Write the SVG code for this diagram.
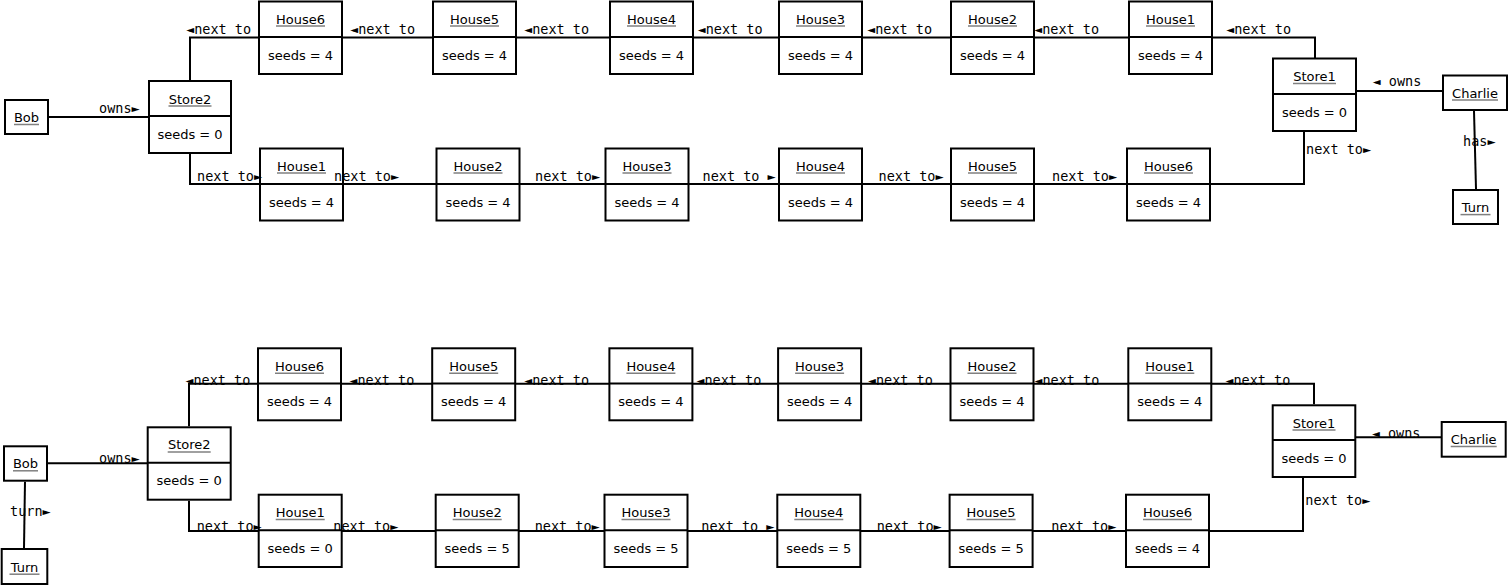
<svg xmlns="http://www.w3.org/2000/svg" width="1508" height="586" viewBox="0 0 1508 586">
<style>
.box{fill:#fff;stroke:#000;stroke-width:2}
.dv{stroke:#000;stroke-width:2}
.ul{stroke:#808080;stroke-width:1.5}
.nm{font-family:"DejaVu Sans","Liberation Sans",sans-serif;font-size:13px;text-anchor:middle;fill:#000}
.vl{font-family:"DejaVu Sans","Liberation Sans",sans-serif;font-size:13px;text-anchor:middle;fill:#000}
.cn{fill:none;stroke:#000;stroke-width:2}
.lb{font-family:"DejaVu Sans Mono","Liberation Mono",monospace;font-size:13.5px;fill:#000}
</style>
<rect width="1508" height="586" fill="#fff"/>
<g id="connectors">
  <!-- top section -->
  <line class="cn" x1="49" y1="117" x2="148" y2="117"/>
  <polyline class="cn" points="190,80 190,37.5 1315,37.5 1315,58"/>
  <polyline class="cn" points="190,154 190,184 1304,184 1304,132"/>
  <line class="cn" x1="1357" y1="91" x2="1442" y2="91"/>
  <line class="cn" x1="1474" y1="111" x2="1476" y2="189"/>
  <!-- bottom section -->
  <line class="cn" x1="48" y1="463.3" x2="147" y2="463.3"/>
  <polyline class="cn" points="189,426.3 189,383.7 1314,383.7 1314,404.3"/>
  <polyline class="cn" points="189,500.7 189,531 1303,531 1303,478"/>
  <line class="cn" x1="1356" y1="437.3" x2="1441" y2="437.3"/>
  <line class="cn" x1="25" y1="481.7" x2="24" y2="548"/>
</g>

<!-- ===== TOP SECTION ===== -->
<g id="t-bob"><rect class="box" x="5" y="100" width="43" height="34"/><text class="nm" x="26.5" y="122">Bob</text><line class="ul" x1="14" y1="124.5" x2="39" y2="124.5"/></g>
<g id="t-store2"><rect class="box" x="149" y="81" width="82" height="72"/><line class="dv" x1="149" y1="116" x2="231" y2="116"/><text class="nm" x="190" y="103.5">Store2</text><line class="ul" x1="168.5" y1="106" x2="211.5" y2="106"/><text class="vl" x="190" y="138.5">seeds = 0</text></g>
<g id="t-store1"><rect class="box" x="1273" y="58.5" width="83" height="72.5"/><line class="dv" x1="1273" y1="94" x2="1356" y2="94"/><text class="nm" x="1314.5" y="81">Store1</text><line class="ul" x1="1293" y1="83.5" x2="1336" y2="83.5"/><text class="vl" x="1314.5" y="116.5">seeds = 0</text></g>
<g id="t-charlie"><rect class="box" x="1443" y="75.5" width="64" height="34.5"/><text class="nm" x="1475" y="97.5">Charlie</text><line class="ul" x1="1452" y1="100" x2="1498" y2="100"/></g>
<g id="t-turn"><rect class="box" x="1453" y="190" width="45" height="34"/><text class="nm" x="1475.5" y="212.3">Turn</text><line class="ul" x1="1460.5" y1="214.6" x2="1490.5" y2="214.6"/></g>

<g id="t-a-house6"><rect class="box" x="259" y="1.5" width="83" height="72.5"/><line class="dv" x1="259" y1="37" x2="342" y2="37"/><text class="nm" x="300.5" y="23.5">House6</text><line class="ul" x1="276" y1="26" x2="325" y2="26"/><text class="vl" x="300.5" y="59.5">seeds = 4</text></g>
<g id="t-a-house5"><rect class="box" x="433" y="1.5" width="83" height="72.5"/><line class="dv" x1="433" y1="37" x2="516" y2="37"/><text class="nm" x="474.5" y="23.5">House5</text><line class="ul" x1="450" y1="26" x2="499" y2="26"/><text class="vl" x="474.5" y="59.5">seeds = 4</text></g>
<g id="t-a-house4"><rect class="box" x="610" y="1.5" width="83" height="72.5"/><line class="dv" x1="610" y1="37" x2="693" y2="37"/><text class="nm" x="651.5" y="23.5">House4</text><line class="ul" x1="627" y1="26" x2="676" y2="26"/><text class="vl" x="651.5" y="59.5">seeds = 4</text></g>
<g id="t-a-house3"><rect class="box" x="779" y="1.5" width="83" height="72.5"/><line class="dv" x1="779" y1="37" x2="862" y2="37"/><text class="nm" x="820.5" y="23.5">House3</text><line class="ul" x1="796" y1="26" x2="845" y2="26"/><text class="vl" x="820.5" y="59.5">seeds = 4</text></g>
<g id="t-a-house2"><rect class="box" x="951" y="1.5" width="83" height="72.5"/><line class="dv" x1="951" y1="37" x2="1034" y2="37"/><text class="nm" x="992.5" y="23.5">House2</text><line class="ul" x1="968" y1="26" x2="1017" y2="26"/><text class="vl" x="992.5" y="59.5">seeds = 4</text></g>
<g id="t-a-house1"><rect class="box" x="1129" y="1.5" width="83" height="72.5"/><line class="dv" x1="1129" y1="37" x2="1212" y2="37"/><text class="nm" x="1170.5" y="23.5">House1</text><line class="ul" x1="1146" y1="26" x2="1195" y2="26"/><text class="vl" x="1170.5" y="59.5">seeds = 4</text></g>

<g id="t-b-house1"><rect class="box" x="260" y="148.5" width="83" height="72"/><line class="dv" x1="260" y1="184" x2="343" y2="184"/><text class="nm" x="301.5" y="170.5">House1</text><line class="ul" x1="277" y1="173" x2="326" y2="173"/><text class="vl" x="301.5" y="206.5">seeds = 4</text></g>
<g id="t-b-house2"><rect class="box" x="436.5" y="148.5" width="83" height="72"/><line class="dv" x1="436.5" y1="184" x2="519.5" y2="184"/><text class="nm" x="478" y="170.5">House2</text><line class="ul" x1="453.5" y1="173" x2="502.5" y2="173"/><text class="vl" x="478" y="206.5">seeds = 4</text></g>
<g id="t-b-house3"><rect class="box" x="605.5" y="148.5" width="83" height="72"/><line class="dv" x1="605.5" y1="184" x2="688.5" y2="184"/><text class="nm" x="647" y="170.5">House3</text><line class="ul" x1="622.5" y1="173" x2="671.5" y2="173"/><text class="vl" x="647" y="206.5">seeds = 4</text></g>
<g id="t-b-house4"><rect class="box" x="779" y="148.5" width="83" height="72"/><line class="dv" x1="779" y1="184" x2="862" y2="184"/><text class="nm" x="820.5" y="170.5">House4</text><line class="ul" x1="796" y1="173" x2="845" y2="173"/><text class="vl" x="820.5" y="206.5">seeds = 4</text></g>
<g id="t-b-house5"><rect class="box" x="951" y="148.5" width="83" height="72"/><line class="dv" x1="951" y1="184" x2="1034" y2="184"/><text class="nm" x="992.5" y="170.5">House5</text><line class="ul" x1="968" y1="173" x2="1017" y2="173"/><text class="vl" x="992.5" y="206.5">seeds = 4</text></g>
<g id="t-b-house6"><rect class="box" x="1127" y="148.5" width="83" height="72"/><line class="dv" x1="1127" y1="184" x2="1210" y2="184"/><text class="nm" x="1168.5" y="170.5">House6</text><line class="ul" x1="1144" y1="173" x2="1193" y2="173"/><text class="vl" x="1168.5" y="206.5">seeds = 4</text></g>

<!-- ===== BOTTOM SECTION ===== -->
<g id="b-bob"><rect class="box" x="4" y="446.3" width="43" height="34.4"/><text class="nm" x="25.5" y="468.3">Bob</text><line class="ul" x1="13" y1="470.8" x2="38" y2="470.8"/></g>
<g id="b-turn"><rect class="box" x="1.7" y="549" width="45.6" height="35"/><text class="nm" x="24.5" y="571.7">Turn</text><line class="ul" x1="9.5" y1="574.2" x2="39.5" y2="574.2"/></g>
<g id="b-store2"><rect class="box" x="147.7" y="427.3" width="83" height="72.4"/><line class="dv" x1="147.7" y1="462.7" x2="230.7" y2="462.7"/><text class="nm" x="189.2" y="449.4">Store2</text><line class="ul" x1="167.7" y1="451.9" x2="210.7" y2="451.9"/><text class="vl" x="189.2" y="485.3">seeds = 0</text></g>
<g id="b-store1"><rect class="box" x="1272.7" y="405.3" width="82.6" height="71.7"/><line class="dv" x1="1272.7" y1="440" x2="1355.3" y2="440"/><text class="nm" x="1314" y="427.6">Store1</text><line class="ul" x1="1292.5" y1="430.1" x2="1335.5" y2="430.1"/><text class="vl" x="1314" y="462.7">seeds = 0</text></g>
<g id="b-charlie"><rect class="box" x="1441.7" y="422" width="64" height="34.7"/><text class="nm" x="1473.7" y="444">Charlie</text><line class="ul" x1="1450.7" y1="446.5" x2="1496.7" y2="446.5"/></g>

<g id="b-a-house6"><rect class="box" x="258" y="348.3" width="83" height="72"/><line class="dv" x1="258" y1="383.5" x2="341" y2="383.5"/><text class="nm" x="299.5" y="370.7">House6</text><line class="ul" x1="275" y1="373.2" x2="324" y2="373.2"/><text class="vl" x="299.5" y="406.2">seeds = 4</text></g>
<g id="b-a-house5"><rect class="box" x="432.2" y="348.3" width="83" height="72"/><line class="dv" x1="432.2" y1="383.5" x2="515.2" y2="383.5"/><text class="nm" x="473.7" y="370.7">House5</text><line class="ul" x1="449.2" y1="373.2" x2="498.2" y2="373.2"/><text class="vl" x="473.7" y="406.2">seeds = 4</text></g>
<g id="b-a-house4"><rect class="box" x="609.4" y="348.3" width="83" height="72"/><line class="dv" x1="609.4" y1="383.5" x2="692.4" y2="383.5"/><text class="nm" x="650.9" y="370.7">House4</text><line class="ul" x1="626.4" y1="373.2" x2="675.4" y2="373.2"/><text class="vl" x="650.9" y="406.2">seeds = 4</text></g>
<g id="b-a-house3"><rect class="box" x="778.1" y="348.3" width="83" height="72"/><line class="dv" x1="778.1" y1="383.5" x2="861.1" y2="383.5"/><text class="nm" x="819.6" y="370.7">House3</text><line class="ul" x1="795.1" y1="373.2" x2="844.1" y2="373.2"/><text class="vl" x="819.6" y="406.2">seeds = 4</text></g>
<g id="b-a-house2"><rect class="box" x="950.5" y="348.3" width="83" height="72"/><line class="dv" x1="950.5" y1="383.5" x2="1033.5" y2="383.5"/><text class="nm" x="992" y="370.7">House2</text><line class="ul" x1="967.5" y1="373.2" x2="1016.5" y2="373.2"/><text class="vl" x="992" y="406.2">seeds = 4</text></g>
<g id="b-a-house1"><rect class="box" x="1128.3" y="348.3" width="83" height="72"/><line class="dv" x1="1128.3" y1="383.5" x2="1211.3" y2="383.5"/><text class="nm" x="1169.8" y="370.7">House1</text><line class="ul" x1="1145.3" y1="373.2" x2="1194.3" y2="373.2"/><text class="vl" x="1169.8" y="406.2">seeds = 4</text></g>

<g id="b-b-house1"><rect class="box" x="258.7" y="494.7" width="83" height="72.3"/><line class="dv" x1="258.7" y1="530.3" x2="341.7" y2="530.3"/><text class="nm" x="300.2" y="517">House1</text><line class="ul" x1="275.7" y1="519.5" x2="324.7" y2="519.5"/><text class="vl" x="300.2" y="552.7">seeds = 0</text></g>
<g id="b-b-house2"><rect class="box" x="435.7" y="494.7" width="83" height="72.3"/><line class="dv" x1="435.7" y1="530.3" x2="518.7" y2="530.3"/><text class="nm" x="477.2" y="517">House2</text><line class="ul" x1="452.7" y1="519.5" x2="501.7" y2="519.5"/><text class="vl" x="477.2" y="552.7">seeds = 5</text></g>
<g id="b-b-house3"><rect class="box" x="604.5" y="494.7" width="83" height="72.3"/><line class="dv" x1="604.5" y1="530.3" x2="687.5" y2="530.3"/><text class="nm" x="646" y="517">House3</text><line class="ul" x1="621.5" y1="519.5" x2="670.5" y2="519.5"/><text class="vl" x="646" y="552.7">seeds = 5</text></g>
<g id="b-b-house4"><rect class="box" x="777.3" y="494.7" width="83" height="72.3"/><line class="dv" x1="777.3" y1="530.3" x2="860.3" y2="530.3"/><text class="nm" x="818.8" y="517">House4</text><line class="ul" x1="794.3" y1="519.5" x2="843.3" y2="519.5"/><text class="vl" x="818.8" y="552.7">seeds = 5</text></g>
<g id="b-b-house5"><rect class="box" x="949.6" y="494.7" width="83" height="72.3"/><line class="dv" x1="949.6" y1="530.3" x2="1032.6" y2="530.3"/><text class="nm" x="991.1" y="517">House5</text><line class="ul" x1="966.6" y1="519.5" x2="1015.6" y2="519.5"/><text class="vl" x="991.1" y="552.7">seeds = 5</text></g>
<g id="b-b-house6"><rect class="box" x="1126" y="494.7" width="83" height="72.3"/><line class="dv" x1="1126" y1="530.3" x2="1209" y2="530.3"/><text class="nm" x="1167.5" y="517">House6</text><line class="ul" x1="1143" y1="519.5" x2="1192" y2="519.5"/><text class="vl" x="1167.5" y="552.7">seeds = 4</text></g>

<g id="connector-labels">
  <text class="lb" x="99" y="112.5">owns►</text>
  <text class="lb" x="186" y="33.5">◄next to</text>
  <text class="lb" x="350" y="33.5">◄next to</text>
  <text class="lb" x="524" y="33.5">◄next to</text>
  <text class="lb" x="697.5" y="33.5">◄next to</text>
  <text class="lb" x="867" y="33.5">◄next to</text>
  <text class="lb" x="1034" y="33.5">◄next to</text>
  <text class="lb" x="1226" y="33.5">◄next to</text>
  <text class="lb" x="197" y="181">next to►</text>
  <text class="lb" x="334" y="181">next to►</text>
  <text class="lb" x="535" y="181">next to►</text>
  <text class="lb" x="702.5" y="181">next to ►</text>
  <text class="lb" x="878.5" y="181">next to►</text>
  <text class="lb" x="1052" y="181">next to►</text>
  <text class="lb" x="1306" y="154">next to►</text>
  <text class="lb" x="1372.5" y="86">◄ owns</text>
  <text class="lb" x="1463" y="145.5">has►</text>
  <text class="lb" x="99" y="463.3">owns►</text>
  <text class="lb" x="185.3" y="385">◄next to</text>
  <text class="lb" x="349.3" y="385">◄next to</text>
  <text class="lb" x="524" y="385">◄next to</text>
  <text class="lb" x="696.3" y="385">◄next to</text>
  <text class="lb" x="867.8" y="385">◄next to</text>
  <text class="lb" x="1034.3" y="385">◄next to</text>
  <text class="lb" x="1225.3" y="385">◄next to</text>
  <text class="lb" x="196.7" y="531">next to►</text>
  <text class="lb" x="333.3" y="531">next to►</text>
  <text class="lb" x="534.7" y="531">next to►</text>
  <text class="lb" x="701.3" y="531">next to ►</text>
  <text class="lb" x="876.7" y="531">next to►</text>
  <text class="lb" x="1051.3" y="531">next to►</text>
  <text class="lb" x="1305.3" y="505">next to►</text>
  <text class="lb" x="1371.7" y="437.5">◄ owns</text>
  <text class="lb" x="10" y="515.7">turn►</text>
</g>
</svg>
